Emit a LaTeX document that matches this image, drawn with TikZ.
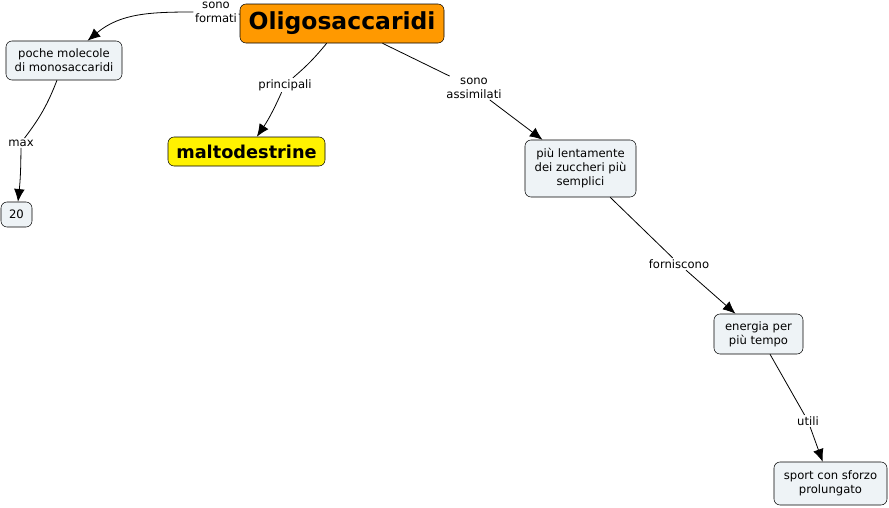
\documentclass[tikz,border=0pt]{standalone}
\usepackage{fontspec}
\setmainfont{DejaVu Sans}
\usetikzlibrary{arrows.meta}
\definecolor{cmapfill}{HTML}{EEF3F6}
\definecolor{cmaporange}{HTML}{FF9900}
\begin{document}
\begin{tikzpicture}[x=0.75pt,y=-0.75pt,
  concept/.style={draw,rounded corners=4.5pt,fill=cmapfill,align=center,inner sep=1pt,
    font=\fontsize{8.7}{10.5}\selectfont},
  linklabel/.style={align=center,inner sep=1pt,font=\fontsize{8.7}{10.5}\selectfont},
  link/.style={-{Latex[length=9.5pt,width=8pt]},line width=0.6pt}]
  \useasboundingbox (0,0) rectangle (889,507);

  % concepts
  \node[concept,fill=cmaporange,minimum width=153pt,minimum height=29.25pt,
    font=\fontsize{17.6}{20}\selectfont\bfseries] (oligo) at (342,23.5) {Oligosaccaridi};
  \node[concept,minimum width=87pt,minimum height=29.25pt] (poche) at (64,60.5) {poche molecole\\di monosaccaridi};
  \node[concept,minimum width=23.25pt,minimum height=18.75pt] (venti) at (16.5,214.5) {20};
  \node[concept,fill=yellow,minimum width=117.75pt,minimum height=21.75pt,
    font=\fontsize{13.3}{15}\selectfont\bfseries] (malto) at (246.5,151.5) {maltodestrine};
  \node[concept,minimum width=83.25pt,minimum height=42.75pt] (lento) at (580.5,168.5) {più lentamente\\dei zuccheri più\\semplici};
  \node[concept,minimum width=66.75pt,minimum height=30pt] (energia) at (758.5,334) {energia per\\più tempo};
  \node[concept,minimum width=84.75pt,minimum height=32.25pt] (sport) at (830.5,483.5) {sport con sforzo\\prolungato};

  % linking phrases
  \node[linklabel] (formati) at (216,12) {sono\\formati};
  \node[linklabel] (princ) at (285,85) {principali};
  \node[linklabel] (max) at (21,143) {max};
  \node[linklabel] (assim) at (474,88) {sono\\assimilati};
  \node[linklabel] (fornisc) at (679,264) {forniscono};
  \node[linklabel] (utili) at (808,421) {utili};

  % connectors
  \draw[line width=0.6pt] (oligo) -- (formati);
  \draw[link] (formati) to[out=180,in=40] (poche);
  \draw[line width=0.6pt] (oligo) to[bend left=5] (princ);
  \draw[link] (princ) to[bend left=5] (malto);
  \draw[line width=0.6pt] (poche) to[bend left=8] (max);
  \draw[link] (max) to[bend left=3] (venti);
  \draw[line width=0.6pt] (oligo) -- (assim);
  \draw[link] (assim) -- (lento);
  \draw[line width=0.6pt] (lento) -- (fornisc);
  \draw[link] (fornisc) -- (energia);
  \draw[line width=0.6pt] (energia) -- (utili);
  \draw[link] (utili) -- (sport);
\end{tikzpicture}
\end{document}
